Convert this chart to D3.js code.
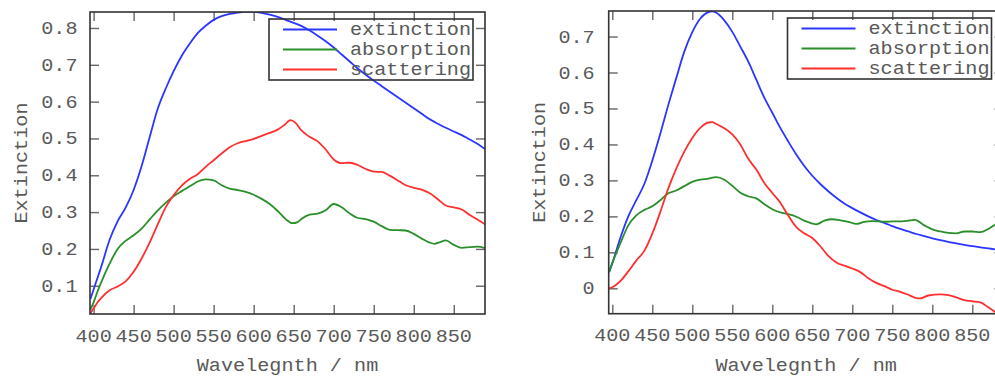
<!DOCTYPE html>
<html>
<head>
<meta charset="utf-8">
<script src="https://cdn.jsdelivr.net/npm/d3@7"></script>
<style>
  html, body { margin: 0; padding: 0; background: #fff; }
  svg { display: block; }
  .txt { font-family: "Liberation Mono", "DejaVu Sans Mono", monospace; font-size: 18px; fill: #595959; }
</style>
</head>
<body>
<svg id="chart" width="995" height="377"></svg>
<script>
// ---------- tick labels and series names ----------
const xTicks = [400, 450, 500, 550, 600, 650, 700, 750, 800, 850];
const leftYTicks = [0.1, 0.2, 0.3, 0.4, 0.5, 0.6, 0.7, 0.8];
const rightYTicks = [0, 0.1, 0.2, 0.3, 0.4, 0.5, 0.6, 0.7];
const seriesNames = ["extinction", "absorption", "scattering"];
const xTitle = "Wavelegnth / nm";
const yTitle = "Extinction";

// ---------- left sample ----------
const leftExtWl = [396,400,410,420,430,440,450,460,470,480,490,500,510,520,530,540,550,560,570,580,590,600,610,620,630,640,650,660,670,680,690,700,710,720,730,740,750,760,770,780,790,800,810,820,830,840,850,860,870,880,889];
const leftExtVal = [0.064,0.09,0.155,0.225,0.275,0.312,0.36,0.425,0.503,0.58,0.635,0.683,0.724,0.757,0.786,0.806,0.822,0.832,0.838,0.842,0.844,0.844,0.841,0.836,0.83,0.822,0.814,0.805,0.793,0.779,0.764,0.747,0.728,0.709,0.69,0.673,0.657,0.642,0.627,0.612,0.597,0.582,0.567,0.552,0.54,0.529,0.519,0.509,0.497,0.485,0.471];

const leftAbsWl = [396,400,405,410,420,430,440,450,460,470,480,490,500,510,520,530,540,550,560,570,580,590,600,610,620,630,640,648,655,660,670,680,690,700,710,720,730,740,750,760,770,780,790,800,810,820,826,832,840,850,860,870,880,889];
const leftAbsVal = [0.035,0.055,0.085,0.112,0.16,0.2,0.222,0.237,0.255,0.28,0.304,0.325,0.343,0.357,0.37,0.383,0.389,0.386,0.373,0.364,0.36,0.355,0.347,0.336,0.322,0.303,0.281,0.27,0.273,0.282,0.293,0.296,0.305,0.322,0.313,0.296,0.284,0.281,0.274,0.262,0.252,0.251,0.25,0.241,0.228,0.217,0.214,0.218,0.223,0.211,0.203,0.205,0.206,0.202];

const leftScaWl = [396,400,405,410,420,430,440,450,460,470,480,490,500,510,520,530,540,550,560,570,580,590,600,610,620,630,638,646,652,660,668,680,690,700,710,720,730,740,750,760,770,780,790,800,810,820,830,840,850,860,870,880,889];
const leftScaVal = [0.025,0.038,0.055,0.068,0.088,0.098,0.112,0.138,0.174,0.217,0.266,0.313,0.346,0.372,0.39,0.403,0.423,0.441,0.459,0.476,0.487,0.493,0.499,0.507,0.515,0.524,0.536,0.55,0.543,0.521,0.507,0.492,0.47,0.443,0.433,0.434,0.428,0.417,0.41,0.409,0.399,0.386,0.373,0.366,0.361,0.351,0.335,0.318,0.313,0.307,0.292,0.279,0.267];

// ---------- right sample ----------
const rightExtWl = [396,400,410,420,430,440,450,460,470,480,490,500,510,520,525,530,540,550,560,570,580,590,600,610,620,630,640,650,660,670,680,690,700,710,720,730,740,750,760,770,780,790,800,810,820,830,840,850,860,870,880,889];
const rightExtVal = [0.045,0.07,0.14,0.2,0.245,0.29,0.355,0.43,0.51,0.585,0.658,0.712,0.75,0.768,0.77,0.766,0.745,0.713,0.672,0.63,0.58,0.53,0.488,0.446,0.408,0.372,0.34,0.313,0.29,0.27,0.252,0.236,0.223,0.211,0.2,0.19,0.182,0.173,0.165,0.158,0.151,0.145,0.139,0.134,0.129,0.125,0.121,0.117,0.114,0.111,0.108,0.105];

const rightAbsWl = [396,400,410,420,430,440,450,460,470,480,490,500,510,520,530,540,550,560,570,580,590,600,610,620,630,640,650,655,665,675,685,695,705,715,725,740,750,765,778,790,800,810,820,830,840,850,860,870,878,889];
const rightAbsVal = [0.045,0.07,0.125,0.175,0.203,0.218,0.228,0.245,0.264,0.272,0.284,0.296,0.302,0.305,0.309,0.302,0.285,0.266,0.256,0.25,0.234,0.22,0.211,0.206,0.199,0.188,0.18,0.178,0.188,0.192,0.189,0.185,0.179,0.185,0.187,0.185,0.186,0.187,0.19,0.175,0.164,0.158,0.154,0.153,0.158,0.158,0.156,0.165,0.176,0.19];

const rightScaWl = [396,400,410,420,430,440,450,460,470,480,490,500,510,520,525,530,540,550,560,570,580,590,600,610,620,630,640,650,660,670,680,690,700,710,720,730,740,750,760,770,780,785,795,810,820,830,840,850,860,870,878,889];
const rightScaVal = [0.0,0.003,0.02,0.047,0.077,0.104,0.152,0.212,0.278,0.333,0.38,0.418,0.446,0.461,0.462,0.457,0.445,0.428,0.4,0.36,0.33,0.293,0.265,0.238,0.202,0.17,0.153,0.14,0.117,0.09,0.072,0.063,0.055,0.045,0.028,0.015,0.006,-0.004,-0.01,-0.018,-0.027,-0.028,-0.02,-0.017,-0.019,-0.025,-0.033,-0.036,-0.039,-0.053,-0.065,-0.085];

// ---------- drawing ----------
const colors = ["#2a36ff", "#2a8f2a", "#ff2f2f"];
const textStretch = 1.12;
const svg = d3.select("#chart");

function zip(wl, val) { return wl.map((w, i) => ({ w: w, v: val[i] })); }

function panel(cfg) {
  const x = d3.scaleLinear().domain(cfg.xDomain).range([cfg.left, cfg.right]);
  const y = d3.scaleLinear().domain(cfg.yDomain).range([cfg.bottom, cfg.top]);
  const g = svg.append("g");
  const tickLen = 9;

  const clipId = "clip" + cfg.id;
  svg.append("defs").append("clipPath").attr("id", clipId)
    .append("rect").attr("x", cfg.left).attr("y", cfg.top)
    .attr("width", cfg.right - cfg.left).attr("height", cfg.bottom - cfg.top);

  // inward ticks on all four sides
  const styleTicks = sel => {
    sel.select(".domain").remove();
    sel.selectAll(".tick line").attr("stroke", "#666").attr("stroke-width", 1.4);
  };
  g.append("g").attr("transform", `translate(0,${cfg.bottom})`)
    .call(d3.axisBottom(x).tickValues(xTicks).tickSizeInner(-tickLen).tickSizeOuter(0).tickFormat(""))
    .call(styleTicks);
  g.append("g").attr("transform", `translate(0,${cfg.top})`)
    .call(d3.axisTop(x).tickValues(xTicks).tickSizeInner(-tickLen).tickSizeOuter(0).tickFormat(""))
    .call(styleTicks);
  g.append("g").attr("transform", `translate(${cfg.left},0)`)
    .call(d3.axisLeft(y).tickValues(cfg.yTicks).tickSizeInner(-tickLen).tickSizeOuter(0).tickFormat(""))
    .call(styleTicks);
  g.append("g").attr("transform", `translate(${cfg.right},0)`)
    .call(d3.axisRight(y).tickValues(cfg.yTicks).tickSizeInner(-tickLen).tickSizeOuter(0).tickFormat(""))
    .call(styleTicks);

  // tick labels
  const fmt = v => v === 0 ? "0" : d3.format(".1f")(v);
  g.selectAll(".ylab").data(cfg.yTicks).join("text")
    .attr("class", "txt")
    .attr("text-anchor", "end")
    .attr("transform", d => `translate(${cfg.left - cfg.yLabelGap},${y(d) + 6}) scale(${textStretch},1)`)
    .text(fmt);
  g.selectAll(".xlab").data(xTicks).join("text")
    .attr("class", "txt")
    .attr("text-anchor", "middle")
    .attr("transform", d => `translate(${x(d)},${cfg.bottom + 27.5}) scale(${textStretch},1)`)
    .text(d => d);

  // axis titles
  g.append("text").attr("class", "txt").attr("text-anchor", "middle")
    .attr("transform", `translate(${(cfg.left + cfg.right) / 2},${cfg.bottom + 57}) scale(${textStretch},1)`)
    .text(xTitle);
  g.append("text").attr("class", "txt").attr("text-anchor", "middle")
    .attr("transform", `translate(${cfg.yTitleX},${(cfg.top + cfg.bottom) / 2}) rotate(-90) scale(${textStretch},1)`)
    .text(yTitle);

  // curves
  const line = d3.line().x(d => x(d.w)).y(d => y(d.v)).curve(d3.curveMonotoneX);
  const plot = g.append("g").attr("clip-path", `url(#${clipId})`);
  cfg.series.forEach((s, i) => {
    plot.append("path").datum(s)
      .attr("fill", "none").attr("stroke", colors[i]).attr("stroke-width", 1.8)
      .attr("stroke-linejoin", "round").attr("d", line);
  });

  // frame
  g.append("rect").attr("x", cfg.left).attr("y", cfg.top)
    .attr("width", cfg.right - cfg.left).attr("height", cfg.bottom - cfg.top)
    .attr("fill", "none").attr("stroke", "#333").attr("stroke-width", 1.6);

  // legend (transparent box)
  const lw = 204, lh = 61;
  const lx = cfg.right - 12 - lw, ly = cfg.top + 7;
  const lg = g.append("g");
  lg.append("rect").attr("x", lx).attr("y", ly).attr("width", lw).attr("height", lh)
    .attr("fill", "none").attr("stroke", "#333").attr("stroke-width", 1.6);
  seriesNames.forEach((name, i) => {
    const ry = ly + 10.5 + i * 20;
    lg.append("line").attr("x1", lx + 14).attr("x2", lx + 68).attr("y1", ry).attr("y2", ry)
      .attr("stroke", colors[i]).attr("stroke-width", 1.8);
    lg.append("text").attr("class", "txt")
      .attr("transform", `translate(${lx + 81},${ry + 5.5}) scale(${textStretch},1)`)
      .text(name);
  });
}

panel({
  id: "L", left: 90, right: 485, top: 12, bottom: 314,
  xDomain: [395.5, 889], yDomain: [0.0233, 0.8434],
  yTicks: leftYTicks, yLabelGap: 12.5, yTitleX: 27,
  series: [zip(leftExtWl, leftExtVal), zip(leftAbsWl, leftAbsVal), zip(leftScaWl, leftScaVal)]
});
panel({
  id: "R", left: 608.7, right: 1003.5, top: 11, bottom: 313.7,
  xDomain: [395.5, 889], yDomain: [-0.0706, 0.771],
  yTicks: rightYTicks, yLabelGap: 14, yTitleX: 545,
  series: [zip(rightExtWl, rightExtVal), zip(rightAbsWl, rightAbsVal), zip(rightScaWl, rightScaVal)]
});
</script>
</body>
</html>
